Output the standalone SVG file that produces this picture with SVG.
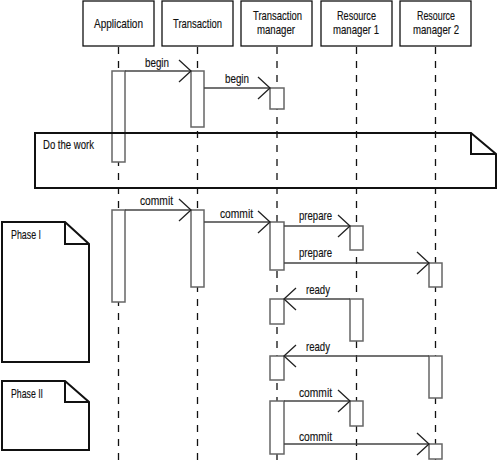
<svg xmlns="http://www.w3.org/2000/svg" width="497" height="466" viewBox="0 0 497 466">
<defs>
<marker id="arr" markerUnits="userSpaceOnUse" viewBox="0 0 14 24" refX="13" refY="12" markerWidth="14" markerHeight="24" orient="auto" overflow="visible">
<path d="M1,1 L13,12 L1,23" fill="none" stroke="#222" stroke-width="1.3"/>
</marker>
</defs>
<style>
text{font-family:"Liberation Sans",Arial,sans-serif;font-size:13px;fill:#111;stroke:#111;stroke-width:0.15}
text.two{font-size:12.4px}
.hd{fill:#fff;stroke:#111;stroke-width:1.3}
.ll{stroke:#111;stroke-width:1.3;stroke-dasharray:7 7}
.act{fill:#fff;stroke:#666;stroke-width:1.5}
.msg{stroke:#444;stroke-width:1.4;fill:none;marker-end:url(#arr)}
.note{fill:none;stroke:#111;stroke-width:2}
.notef{fill:#fff;stroke:#111;stroke-width:2}
</style>
<g id="application">
<rect class="hd" x="83" y="1" width="71" height="45"/>
<text x="94" y="28" textLength="49" lengthAdjust="spacingAndGlyphs">Application</text>
<line class="ll" x1="118.5" y1="47" x2="118.5" y2="466"/>
<rect class="act" x="112" y="71" width="13" height="91"/>
<rect class="act" x="112" y="210" width="13" height="92"/>
</g>
<g id="transaction">
<rect class="hd" x="162" y="1" width="71" height="45"/>
<text x="173" y="28" textLength="49" lengthAdjust="spacingAndGlyphs">Transaction</text>
<line class="ll" x1="197.5" y1="47" x2="197.5" y2="466"/>
<rect class="act" x="191" y="71" width="13" height="56"/>
<rect class="act" x="191" y="210" width="13" height="77"/>
</g>
<g id="transaction-manager">
<rect class="hd" x="241" y="1" width="71" height="45"/>
<text class="two" x="253" y="20" textLength="49" lengthAdjust="spacingAndGlyphs">Transaction</text>
<text class="two" x="257" y="34" textLength="38" lengthAdjust="spacingAndGlyphs">manager</text>
<line class="ll" x1="277" y1="47" x2="277" y2="466"/>
<rect class="act" x="270" y="88" width="14" height="21"/>
<rect class="act" x="270" y="222" width="14" height="48"/>
<rect class="act" x="270" y="299" width="14" height="25"/>
<rect class="act" x="270" y="356" width="14" height="24"/>
<rect class="act" x="270" y="401" width="14" height="53"/>
</g>
<g id="resource-manager-1">
<rect class="hd" x="321" y="1" width="71" height="45"/>
<text class="two" x="337" y="20" textLength="39" lengthAdjust="spacingAndGlyphs">Resource</text>
<text class="two" x="333" y="34" textLength="46" lengthAdjust="spacingAndGlyphs">manager 1</text>
<line class="ll" x1="356.5" y1="47" x2="356.5" y2="466"/>
<rect class="act" x="350" y="226" width="13" height="24"/>
<rect class="act" x="350" y="299" width="13" height="42"/>
<rect class="act" x="350" y="401" width="13" height="25"/>
</g>
<g id="resource-manager-2">
<rect class="hd" x="400" y="1" width="71" height="45"/>
<text class="two" x="417" y="20" textLength="38" lengthAdjust="spacingAndGlyphs">Resource</text>
<text class="two" x="413" y="34" textLength="46" lengthAdjust="spacingAndGlyphs">manager 2</text>
<line class="ll" x1="435.5" y1="47" x2="435.5" y2="466"/>
<rect class="act" x="429" y="263" width="13" height="24"/>
<rect class="act" x="429" y="356" width="13" height="42"/>
<rect class="act" x="429" y="444" width="13" height="15"/>
</g>
<g id="note-do-the-work">
<path class="note" d="M35,133 H471 L496,154 V188 H35 Z"/>
<path class="note" d="M471,133 V154 H496"/>
<text x="43" y="149" textLength="51" lengthAdjust="spacingAndGlyphs">Do the work</text>
</g>
<g id="note-phase-1">
<path class="notef" d="M2,222 H65 L89,244 V362 H2 Z"/>
<path class="note" d="M65,222 V244 H89"/>
<text x="11" y="239" textLength="30" lengthAdjust="spacingAndGlyphs">Phase I</text>
</g>
<g id="note-phase-2">
<path class="notef" d="M2,381 H65 L89,402 V450 H2 Z"/>
<path class="note" d="M65,381 V402 H89"/>
<text x="11" y="398" textLength="32" lengthAdjust="spacingAndGlyphs">Phase II</text>
</g>
<g id="connectors">
<path class="msg" d="M125,71 H191"/>
<text x="145" y="67" textLength="24" lengthAdjust="spacingAndGlyphs">begin</text>
<path class="msg" d="M204,88 H270"/>
<text x="225" y="83" textLength="24" lengthAdjust="spacingAndGlyphs">begin</text>
<path class="msg" d="M125,210 H191"/>
<text x="140" y="205" textLength="33" lengthAdjust="spacingAndGlyphs">commit</text>
<path class="msg" d="M204,222 H270"/>
<text x="220" y="218" textLength="33" lengthAdjust="spacingAndGlyphs">commit</text>
<path class="msg" d="M284,226 H350"/>
<text x="299" y="220" textLength="33" lengthAdjust="spacingAndGlyphs">prepare</text>
<path class="msg" d="M284,263 H429"/>
<text x="299" y="257" textLength="33" lengthAdjust="spacingAndGlyphs">prepare</text>
<path class="msg" d="M350,299 H284"/>
<text x="306" y="294" textLength="24" lengthAdjust="spacingAndGlyphs">ready</text>
<path class="msg" d="M429,356 H284"/>
<text x="306" y="351" textLength="24" lengthAdjust="spacingAndGlyphs">ready</text>
<path class="msg" d="M284,401 H350"/>
<text x="299" y="397" textLength="33" lengthAdjust="spacingAndGlyphs">commit</text>
<path class="msg" d="M284,444 H429"/>
<text x="299" y="441" textLength="33" lengthAdjust="spacingAndGlyphs">commit</text>
</g>
</svg>
